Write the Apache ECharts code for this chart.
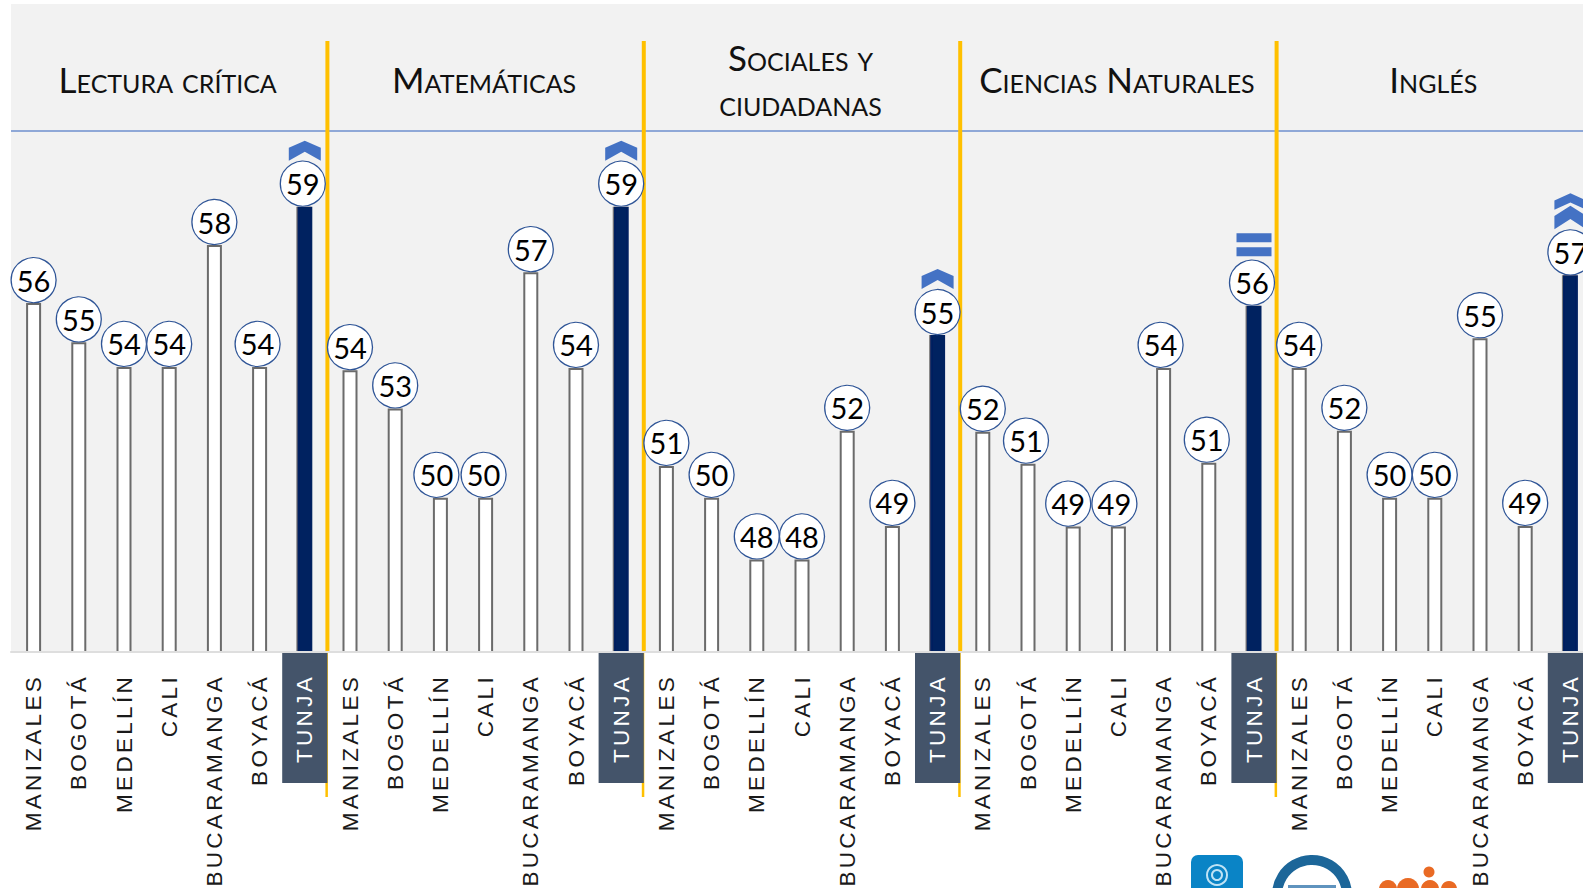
<!DOCTYPE html>
<html>
<head>
<meta charset="utf-8">
<script src="https://cdn.jsdelivr.net/npm/echarts@6/dist/echarts.min.js"></script>
<style>
  html, body { margin: 0; padding: 0; background: #fff; overflow: hidden; }
  #chart { width: 1583px; height: 888px; }
  /* zrender has no letter spacing, the city labels are the only Liberation text */
  text[style*="Liberation"] { letter-spacing: 3.3px; }
</style>
</head>
<body>
<div id="chart"></div>
<script>
const cities = ['MANIZALES', 'BOGOTÁ', 'MEDELLÍN', 'CALI', 'BUCARAMANGA', 'BOYACÁ', 'TUNJA'];
const subjects = ['Lectura crítica', 'Matemáticas', 'Sociales y\nciudadanas', 'Ciencias Naturales', 'Inglés'];

// labels in the picture are rounded, bar heights are not
const lecturaCritica = [55.93, 54.7, 53.93, 53.93, 57.75, 53.93, 58.95];
const matematicas = [53.83, 52.63, 49.83, 49.83, 56.9, 53.9, 58.95];
const sociales = [50.83, 49.83, 47.9, 47.9, 51.93, 48.95, 54.93];
const cienciasNaturales = [51.9, 50.9, 48.93, 48.93, 53.9, 50.93, 55.85];
const ingles = [53.9, 51.93, 49.83, 49.83, 54.83, 48.95, 56.8];
const trends = ['up', 'up', 'up', 'equal', 'double'];

const allGroups = [lecturaCritica, matematicas, sociales, cienciasNaturales, ingles];
const categories = allGroups.flatMap(() => cities);
const values = allGroups.flat();
const tunjaIndexes = allGroups.map((g, i) => (i + 1) * cities.length - 1);

// bubbles that sit left of their bar in the picture, point index -> px
const bubbleShift = { 5: -2, 6: -2, 9: -4, 10: -2, 22: -2, 23: -5, 24: -4, 25: -3, 26: -2, 27: -2 };

const gridLeft = 11;
const gridTop = 4;
const gridBottomY = 652;
const band = 45.2;
const axisMin = 45;
const axisMax = 65.3;

const trendSymbols = {
  up: { symbol: 'path://M0 7L16 0L32 7V20L16 11L0 20Z', size: [32, 20], offset: -56 },
  equal: { symbol: 'path://M0 0H35V9H0ZM0 14H35V23H0Z', size: [35, 23], offset: -61 },
  double: { symbol: 'path://M0 7L16 0L32 7V16L16 9L0 16ZM0 22L16 12L32 22V35L16 25L0 35Z', size: [32, 36], offset: -64 }
};

const chart = echarts.init(document.getElementById('chart'), null, { renderer: 'svg' });

const subjectTitles = subjects.map((name, i) => ({
  type: 'text',
  z: 20,
  style: {
    text: name,
    x: gridLeft + band * (cities.length * i + 3.5) - 1.5,
    y: 79,
    textAlign: 'center',
    textVerticalAlign: 'middle',
    font: 'small-caps 35px Lato',
    lineHeight: 45,
    fill: '#111'
  }
}));

chart.setOption({
  animation: false,
  grid: {
    left: gridLeft,
    top: gridTop,
    width: band * 35,
    height: gridBottomY - gridTop,
    show: true,
    backgroundColor: '#F2F2F2',
    borderWidth: 0,
    containLabel: false,
    outerBoundsMode: 'none'
  },
  xAxis: {
    type: 'category',
    data: categories,
    z: 5,
    axisLine: { lineStyle: { color: '#DEDEDE', width: 2 } },
    axisTick: { show: false },
    axisLabel: {
      interval: 0,
      rotate: 90,
      margin: 22,
      fontFamily: 'Liberation Sans',
      fontSize: 22.5,
      color: (v, i) => (tunjaIndexes.includes(i) ? '#fff' : '#1a1a1a')
    }
  },
  yAxis: { type: 'value', min: axisMin, max: axisMax, show: false },
  graphic: [
    { type: 'line', z: 1, shape: { x1: gridLeft, y1: 131, x2: 1583, y2: 131 }, style: { stroke: '#6E8FCE', lineWidth: 1.5 } },
    ...subjectTitles,
    // logos cut off by the bottom edge
    { type: 'rect', shape: { x: 1191, y: 855, width: 52, height: 60, r: 7 }, style: { fill: '#0A84C6' } },
    { type: 'circle', shape: { cx: 1217, cy: 875, r: 10 }, style: { fill: 'none', stroke: '#BFE3F5', lineWidth: 2 } },
    { type: 'circle', shape: { cx: 1217, cy: 875, r: 5 }, style: { fill: 'none', stroke: '#BFE3F5', lineWidth: 2 } },
    { type: 'circle', shape: { cx: 1312, cy: 895, r: 35 }, style: { fill: '#fff', stroke: '#1C6699', lineWidth: 10 } },
    { type: 'rect', shape: { x: 1288, y: 885, width: 48, height: 3 }, style: { fill: '#5F93BE' } },
    { type: 'circle', shape: { cx: 1429, cy: 872, r: 5.5 }, style: { fill: '#E96A24' } },
    { type: 'circle', shape: { cx: 1388, cy: 889, r: 9 }, style: { fill: '#E96A24' } },
    { type: 'circle', shape: { cx: 1408, cy: 889, r: 11 }, style: { fill: '#E96A24' } },
    { type: 'circle', shape: { cx: 1430, cy: 889, r: 9 }, style: { fill: '#E96A24' } },
    { type: 'circle', shape: { cx: 1449, cy: 889, r: 8 }, style: { fill: '#E96A24' } }
  ],
  series: [
    {
      type: 'bar',
      barWidth: 15,
      z: 2,
      data: values.map((v, i) => tunjaIndexes.includes(i)
        ? { value: v, itemStyle: { color: '#002060', borderColor: '#002060', borderWidth: 2, shadowColor: '#7F7F7F', shadowOffsetX: -1 } }
        : v),
      itemStyle: { color: '#fff', borderColor: '#6B6B6B', borderWidth: 2 }
    },
    {
      // separators and the TUNJA label box hang off the same category positions
      type: 'custom',
      z: 3,
      data: tunjaIndexes.map((i) => [i]),
      encode: { x: 0 },
      renderItem: (params, api) => {
        const base = api.coord([api.value(0), axisMin]);
        const right = base[0] + band / 2;
        return {
          type: 'group',
          children: [
            { type: 'rect', shape: { x: right - 2, y: 41, width: 4, height: base[1] - 41 }, style: { fill: '#FFC000' } },
            { type: 'rect', shape: { x: right - 2, y: base[1], width: 2.5, height: 145 }, style: { fill: '#FFC000' } },
            { type: 'rect', shape: { x: right - band, y: base[1] + 1, width: band, height: 130 }, style: { fill: '#44546A' } }
          ]
        };
      }
    },
    {
      type: 'scatter',
      z: 6,
      clip: false,
      symbol: 'circle',
      symbolSize: 45,
      data: values.map((v, i) => ({ value: v, symbolOffset: [bubbleShift[i] || 0, -23] })),
      itemStyle: { color: '#fff', borderColor: '#2F5597', borderWidth: 1.3, opacity: 1 },
      label: {
        show: true,
        position: 'inside',
        formatter: (p) => String(Math.round(p.data.value)),
        fontFamily: 'Lato',
        fontSize: 29,
        color: '#000'
      }
    },
    {
      type: 'scatter',
      z: 6,
      clip: false,
      data: tunjaIndexes.map((idx, i) => {
        const t = trendSymbols[trends[i]];
        return {
          value: [idx, values[idx]],
          symbol: t.symbol,
          symbolSize: t.size,
          symbolOffset: [0, t.offset]
        };
      }),
      itemStyle: { color: '#4472C4', opacity: 1 }
    }
  ]
});
</script>
</body>
</html>
